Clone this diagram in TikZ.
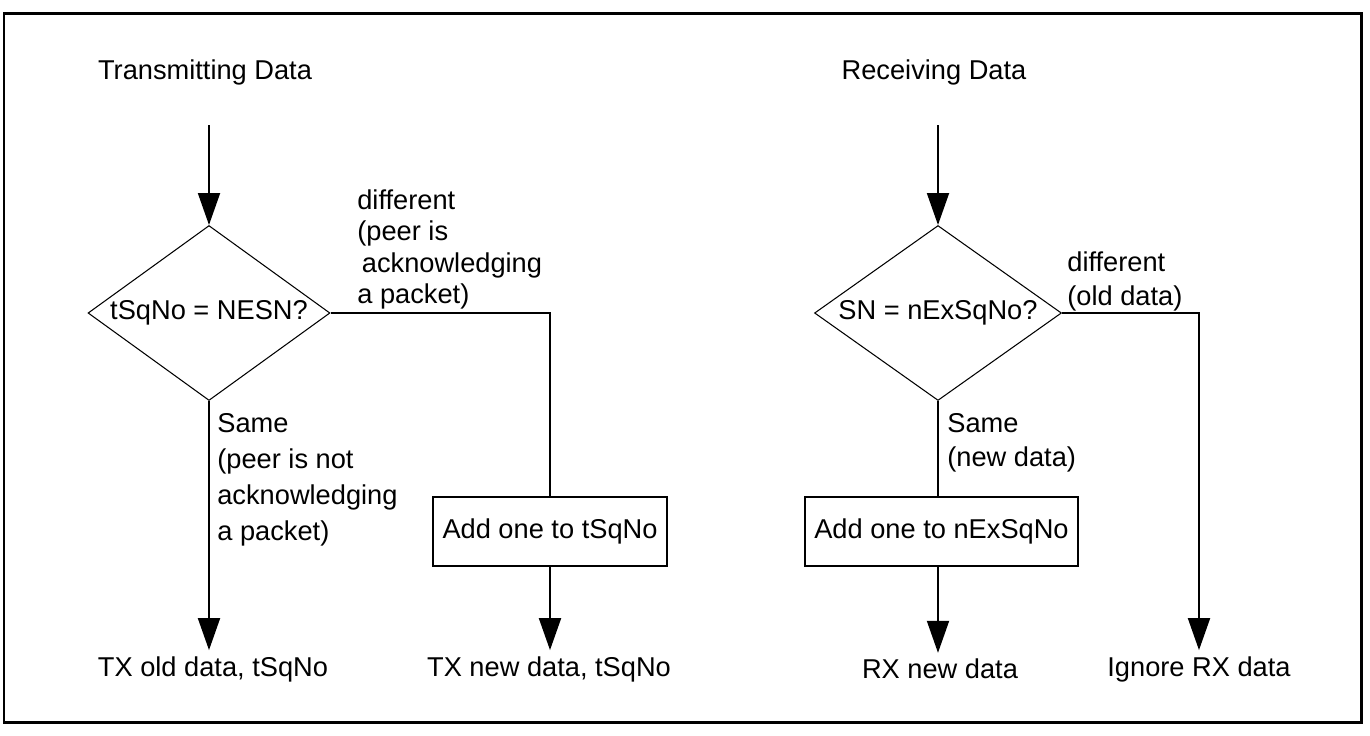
\documentclass[tikz,border=0pt]{standalone}
\usepackage{fontspec}
\setmainfont{Liberation Sans}
\usetikzlibrary{arrows.meta,shapes.geometric}

\begin{document}
\begin{tikzpicture}[
  x=0.02cm, y=-0.02cm,
  font=\fontsize{15.5}{19.5}\selectfont,
  dec/.style={draw, diamond, line width=0.6pt, inner sep=0pt,
    minimum height=3.5cm},
  box/.style={draw, line width=0.8pt, minimum height=1.38cm, inner sep=0pt},
  d/.style={-{Triangle[length=0.64cm, width=0.44cm]}, line width=1.1pt},
  l/.style={line width=1.1pt},
  lbl/.style={align=left, anchor=north west, inner sep=0pt}
]
\useasboundingbox (0,0) rectangle (1370,735);
\draw[line width=1.7pt] (4,13) rectangle (1361,722);

\node (txt) at (205,72) {Transmitting Data};
\coordinate (ts) at (209,125);
\node[dec, minimum width=4.84cm, label=center:{tSqNo = NESN?}] (q1) at (209,313) {};
\node[box, minimum width=4.68cm] (inc1) at (550,531.5) {Add one to tSqNo};
\node (old) at (213,669) {TX old data, tSqNo};
\node (new) at (549,669) {TX new data, tSqNo};
\node[lbl, font=\fontsize{15.5}{18}\selectfont] (difa) at (357,189)
  {different\\(peer is\\ \,acknowledging\\a packet)};
\node[lbl, font=\fontsize{15.5}{20.5}\selectfont] (samea) at (217,413)
  {Same\\(peer is not\\acknowledging\\a packet)};

\node (rxt) at (934,72) {Receiving Data};
\coordinate (rs) at (938,125);
\node[dec, minimum width=4.94cm, label=center:{SN = nExSqNo?}] (q2) at (938,313) {};
\node[box, minimum width=5.46cm] (inc2) at (941.5,531.5) {Add one to nExSqNo};
\node (rnew) at (940,669) {RX new data};
\node (ign) at (1199,669) {Ignore RX data};
\node[lbl] (difb) at (1067,251) {different\\(old data)};
\node[lbl] (sameb) at (947,413) {Same\\(new data)};

\draw[d] (ts) -- (q1.north);
\draw[d] (q1.south) -- (q1.south |- old.north);
\draw[l] (q1.east) -| (inc1.north);
\draw[d] (inc1.south) -- (inc1.south |- new.north);

\draw[d] (rs) -- (q2.north);
\draw[l] (q2.south) -- (q2.south |- inc2.north);
\draw[d] (q2.south |- inc2.south) -- (q2.south |- rnew.north);
\draw[d] (q2.east) -| (ign.north);
\end{tikzpicture}
\end{document}
